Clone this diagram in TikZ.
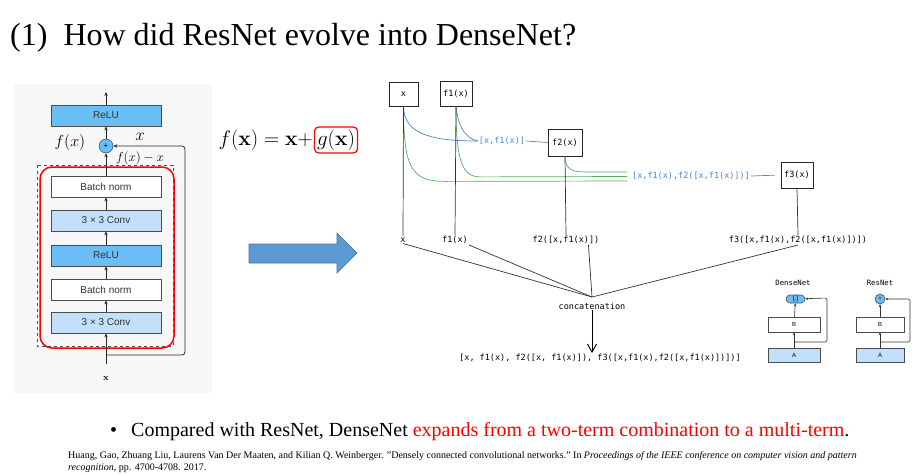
\RequirePackage{fix-cm}
\documentclass[tikz,border=0pt]{standalone}
\usepackage[no-math]{fontspec}
\setmainfont{Liberation Serif}
\setsansfont{Liberation Sans}
\setmonofont{DejaVu Sans Mono}
\usetikzlibrary{arrows.meta}

\definecolor{reluBlue}{HTML}{6BBDF5}
\definecolor{convBlue}{HTML}{C2E0FA}
\definecolor{bigArrow}{HTML}{5B9BD5}
\definecolor{catBlue}{HTML}{4A86C8}
\definecolor{catGreen}{HTML}{5BAA5B}

\tikzset{
    blk/.style={draw=black!70, line width=0.7pt, minimum width=110pt, minimum height=21pt,
        inner sep=0pt, text=black!80, font=\sffamily\fontsize{10}{10}\selectfont},
    arr/.style={-{Stealth[length=4pt,width=3.4pt]}, line width=0.8pt, black!85},
    fbox/.style={draw=black!85, line width=0.8pt, fill=white, inner sep=0pt,
        font=\ttfamily\fontsize{8.5}{8.5}\selectfont},
    mono/.style={inner sep=1pt, font=\ttfamily\fontsize{8.5}{8.5}\selectfont},
    tiny/.style={draw=black!70, line width=0.6pt, inner sep=0pt, minimum height=15pt,
        font=\sffamily\fontsize{6}{6}\selectfont},
    thin arr/.style={-{Stealth[length=3pt,width=2.6pt]}, line width=0.6pt, black!80},
}

\begin{document}
\begin{tikzpicture}[x=1pt,y=-1pt]
    \useasboundingbox (0,0) rectangle (921,474);

    % title
    \node[anchor=west, inner sep=0pt, font=\fontsize{32}{35}\selectfont] (title) at (10,38)
        {(1)\ \ How did ResNet evolve into DenseNet?};

    % residual block
    \fill[black!3] (14,84) rectangle (212,393);
    \draw[dashed, black!70, line width=0.7pt] (37,165) rectangle (173,346);
    \draw[red, line width=1.5pt, rounded corners=12pt] (40,167) rectangle (174,348);
    \foreach \name/\y/\txt/\col in {relu2/115.5/ReLU/reluBlue, bn2/186.5/Batch norm/white,
            conv2/220.5/3 × 3 Conv/convBlue, relu1/255.5/ReLU/reluBlue,
            bn1/289.5/Batch norm/white, conv1/322.5/3 × 3 Conv/convBlue}
        \node[blk, fill=\col] (\name) at (106,\y) {\txt};
    \node[circle, draw=black!80, fill=reluBlue, minimum size=14pt, inner sep=0pt,
        font=\sffamily\fontsize{8}{8}\selectfont] (plus) at (106,146) {+};
    \coordinate (top) at (106,92);
    \coordinate (in) at (106,364);
    \coordinate (fork) at (106,355);
    \foreach \a/\b in {in/conv1, conv1/bn1, bn1/relu1, relu1/conv2, conv2/bn2, bn2/plus, plus/relu2, relu2/top}
        \draw[arr] (\a) -- (\b);
    \draw[arr, rounded corners=3pt] (fork) -| (185,146) -- (plus);
    \node[font=\fontsize{16}{16}\selectfont] (fx) at (70,142) {$f(x)$};
    \node[font=\fontsize{17}{17}\selectfont] (xs) at (140,137) {$x$};
    \node[font=\fontsize{13}{13}\selectfont] (fxx) at (140,158) {$f(x)-x$};
    \node[font=\fontsize{9}{9}\selectfont] (xin) at (106,378) {$\mathbf{x}$};

    % formula
    \node[draw=red, line width=1.2pt, rounded corners=4pt, inner sep=2.5pt,
        font=\fontsize{21}{21}\selectfont] (gx) at (336,140) {$g(\mathbf{x})$};
    \node[anchor=east, inner sep=0pt, font=\fontsize{21}{21}\selectfont] (feq)
        at ([xshift=-1pt]gx.west) {$f(\mathbf{x})=\mathbf{x}+$};

    % big arrow
    \filldraw[fill=bigArrow, draw=bigArrow!75!black, line width=0.6pt]
        (249,244) -- (337,244) -- (337,233) -- (357,253) -- (337,273) -- (337,263) -- (249,263) -- cycle;

    % dense block
    \node[fbox, minimum width=29pt, minimum height=24pt] (bx) at (403.5,94) {x};
    \node[fbox, minimum width=32pt, minimum height=25pt] (bf1) at (456,93.5) {f1(x)};
    \node[fbox, minimum width=34pt, minimum height=27pt] (bf2) at (565,142.5) {f2(x)};
    \node[fbox, minimum width=32pt, minimum height=26pt] (bf3) at (797,175) {f3(x)};
    \node[mono, text=catBlue] (cat1) at (502,141) {[x,f1(x)]};
    \node[mono, text=catBlue] (cat2) at (691,176) {[x,f1(x),f2([x,f1(x)])]};
    \coordinate (ge1) at (627,181);
    \coordinate (ge2) at (627,176.5);
    \coordinate (ge3) at (627,172);
    % blue paths
    \draw[catBlue, line width=0.7pt] (bx.south) .. controls +(0,30) and +(-40,0) .. (cat1.west);
    \draw[catBlue, line width=0.7pt] (bf1.south) .. controls +(2,18) and +(-14,-3) .. (cat1.west);
    \draw[catBlue, line width=0.7pt] (cat1.east) -- (bf2.west);
    \draw[catBlue, line width=0.7pt, shorten >=6pt] (cat2.east) -- (bf3.west);
    % green paths
    \draw[catGreen, line width=0.7pt] (bx.south) .. controls +(0,62) and +(-34,0) .. ++(42,75) -- (ge1);
    \draw[catGreen, line width=0.7pt] (bf1.south) .. controls +(0,54) and +(-18,0) .. ++(24,70.5) -- (ge2);
    \draw[catGreen, line width=0.7pt] (bf2.south) .. controls +(0,13) and +(-10,0) .. ++(18,15.5) -- (ge3);
    % outputs
    \node[mono] (lx) at (403,240) {x};
    \node[mono] (lf1) at (455,240) {f1(x)};
    \node[mono] (lf2) at (566,240) {f2([x,f1(x)])};
    \node[mono] (lf3) at (798,240) {f3([x,f1(x),f2([x,f1(x)])])};
    \foreach \b/\l in {bx/lx, bf1/lf1, bf2/lf2, bf3/lf3}
        \draw[black!80, line width=0.7pt] (\b.south) -- (\l.north);
    \coordinate (cc) at (592,297);
    \draw[black!80, line width=0.7pt] (lx.south) -- (cc);
    \draw[black!80, line width=0.7pt] (lf1.south east) -- (cc);
    \draw[black!80, line width=0.7pt] ([xshift=-12pt]lf2.south east) -- (cc);
    \draw[black!80, line width=0.7pt] (lf3.south) -- (cc);
    \node[mono] (cat) at (592,306) {concatenation};
    \node[mono] (fin) at (600,358) {[x, f1(x), f2([x, f1(x)]), f3([x,f1(x),f2([x,f1(x)])])]};
    \draw[-{Straight Barb[length=8pt,width=9pt]}, line width=0.9pt] (cat.south) -- (cat.south |- fin.north);

    % DenseNet vs ResNet
    \node[mono, font=\ttfamily\fontsize{7.3}{7.3}\selectfont] (dn) at (793,283) {DenseNet};
    \node[tiny, fill=reluBlue, rounded corners=4pt, minimum width=19pt, minimum height=8pt] (dc) at (795.5,299) {[.]};
    \node[tiny, fill=white, minimum width=52pt] (db) at (794,324.5) {B};
    \node[tiny, fill=convBlue, minimum width=52pt, minimum height=14pt] (da) at (794,355) {A};
    \coordinate (dfork) at (794,342);
    \draw[thin arr] (da) -- (db);
    \draw[thin arr] (db) -- (dc);
    \draw[thin arr, rounded corners=2pt] (dfork) -| (827,298) -- (dc);
    \node[mono, font=\ttfamily\fontsize{7.3}{7.3}\selectfont] (rn) at (880,283) {ResNet};
    \node[tiny, circle, fill=reluBlue, minimum size=10pt, minimum height=10pt] (rp) at (880,299) {+};
    \node[tiny, fill=white, minimum width=48pt] (rb) at (880,324.5) {B};
    \node[tiny, fill=convBlue, minimum width=48pt, minimum height=14pt] (ra) at (880,355) {A};
    \coordinate (rfork) at (880,342);
    \draw[thin arr] (ra) -- (rb);
    \draw[thin arr] (rb) -- (rp);
    \draw[thin arr, rounded corners=2pt] (rfork) -| (910,299) -- (rp);

    % summary and reference
    \node[anchor=west, inner sep=0pt, font=\fontsize{20}{22}\selectfont] (bul) at (110,432) {\textbullet};
    \node[anchor=west, inner sep=0pt, font=\fontsize{20}{22}\selectfont] (sum) at (131,432)
        {Compared with ResNet, DenseNet \textcolor{red}{expands from a two-term combination to a multi-term}.};
    \node[anchor=north west, inner sep=0pt, align=left, font=\fontsize{10}{12.5}\selectfont] (ref) at (68,451)
        {Huang, Gao, Zhuang Liu, Laurens Van Der Maaten, and Kilian Q. Weinberger. "Densely connected convolutional networks." In \textit{Proceedings of the IEEE conference on computer vision and pattern}\\
        \textit{recognition}, pp. 4700-4708. 2017.};
\end{tikzpicture}
\end{document}
